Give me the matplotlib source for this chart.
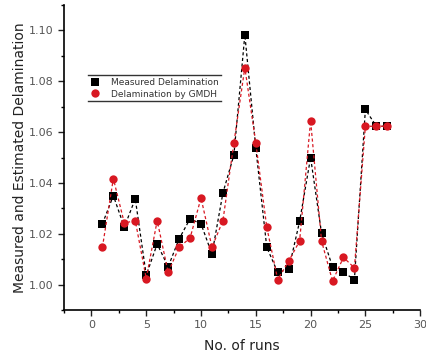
import numpy as np
import matplotlib
matplotlib.use('Agg')
import matplotlib.pyplot as plt
from matplotlib.lines import Line2D
from matplotlib.ticker import MultipleLocator

runs = list(range(1, 28))
measured = [1.0239, 1.0350, 1.0226, 1.0338, 1.0037, 1.0160, 1.0070, 1.0180, 1.0259,
            1.0239, 1.0120, 1.0361, 1.0510, 1.0983, 1.0537, 1.0147, 1.0048, 1.0060,
            1.0249, 1.0500, 1.0202, 1.0070, 1.0048, 1.0020, 1.0689, 1.0623, 1.0623]
gmdh = [1.0147, 1.0417, 1.0242, 1.0252, 1.0024, 1.0252, 1.0048, 1.0147, 1.0183,
        1.0341, 1.0147, 1.0252, 1.0557, 1.0854, 1.0557, 1.0226, 1.0020, 1.0092,
        1.0172, 1.0645, 1.0172, 1.0014, 1.0107, 1.0066, 1.0623, 1.0623, 1.0623]

fig = plt.figure(figsize=(4.27, 3.58), dpi=100)
ax = fig.add_axes([0.150, 0.134, 0.834, 0.852])

ax.plot(runs, measured, color='black', linestyle=(0, (2.5, 2)), linewidth=0.9,
        marker='s', markersize=5.2, markeredgewidth=0, label='Measured Delamination')
ax.plot(runs, gmdh, color='#d81822', linestyle=(0, (2.5, 2)), linewidth=0.9,
        marker='o', markersize=6, markeredgewidth=0, label='Delamination by GMDH')

ax.set_xlim(-2.5, 30)
ax.set_ylim(0.99, 1.11)
ax.xaxis.set_major_locator(MultipleLocator(5))
ax.xaxis.set_minor_locator(MultipleLocator(2.5))
ax.yaxis.set_major_locator(MultipleLocator(0.02))
ax.yaxis.set_minor_locator(MultipleLocator(0.01))
ax.yaxis.set_major_formatter(matplotlib.ticker.FormatStrFormatter('%.2f'))
ax.tick_params(which='major', direction='out', length=4, width=1, labelsize=8,
               colors='#222222', labelcolor='#555555')
ax.tick_params(which='minor', direction='out', length=2.5, width=1)
for s in ['top', 'right']:
    ax.spines[s].set_visible(False)
for s in ['left', 'bottom']:
    ax.spines[s].set_linewidth(1.2)

ax.set_xlabel('No. of runs', fontsize=10, labelpad=6, color='#222222')
ax.set_ylabel('Measured and Estimated Delamination', fontsize=10, labelpad=1, color='#222222')

leg = ax.legend(loc='upper left', bbox_to_anchor=(0.055, 0.785), fontsize=6.5,
                frameon=False, handlelength=1.0, handletextpad=1.2,
                borderpad=0.3, labelspacing=0.3)
for h in leg.legend_handles:
    h.set_linestyle('none')
for t in leg.get_texts():
    t.set_color('#333333')

fig.canvas.draw()
bb = leg.get_window_extent().transformed(fig.transFigure.inverted())
for yy in (bb.y0, bb.y1):
    fig.add_artist(Line2D([bb.x0, bb.x1], [yy, yy], color='#333333', linewidth=1.0))

fig.savefig('out.png', dpi=100)
